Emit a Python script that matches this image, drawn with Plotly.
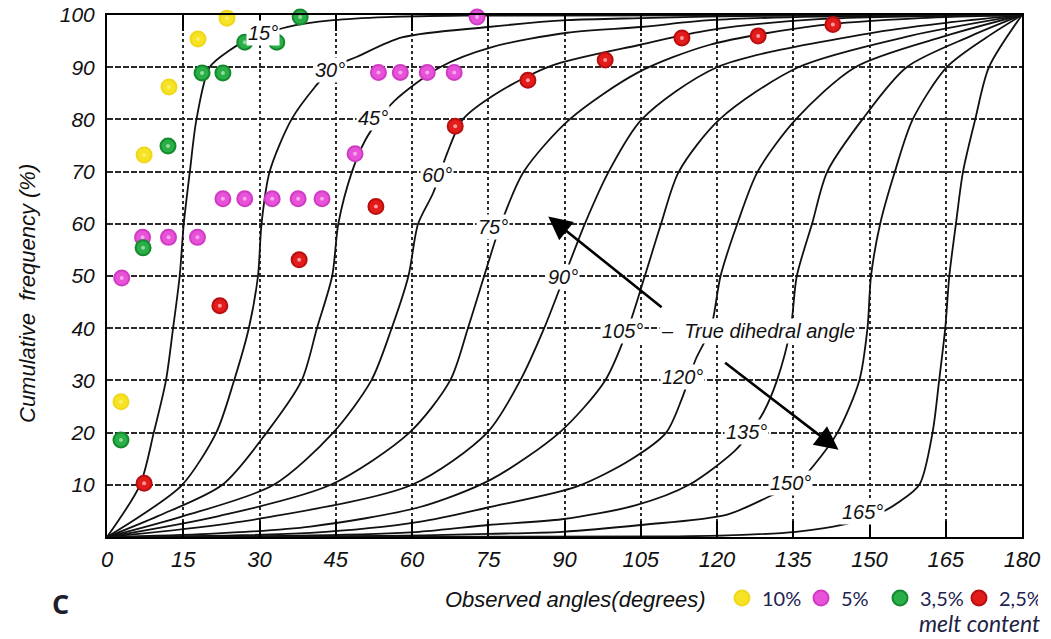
import plotly.graph_objects as go

# ---- Theoretical cumulative-frequency curves (observed angle vs cumulative %) ----
c15_obs = [0, 6.5, 9.2, 11.6, 13.0, 14.3, 15.1, 16.3, 17.6, 20.2, 24.2, 27.5, 35.4, 44.5, 55, 70, 180]
c15_frq = [0, 10, 20, 30, 40, 50, 60, 70, 80, 90, 93.3, 95.2, 97.7, 99.0, 99.6, 99.9, 100]

c30_obs = [0, 7, 14.8, 21.5, 25.0, 27.9, 29.7, 30.4, 32.0, 36.3, 40.9, 44.5, 49.2, 58, 75, 90.5, 105, 125, 180]
c30_frq = [0, 4.3, 10, 20, 30, 40, 50, 60, 70, 80, 86.2, 90, 92, 95.7, 97.7, 99.0, 99.4, 99.8, 100]

c45_obs = [0, 10, 22.7, 31.4, 38.3, 41.3, 44.3, 45.5, 48.2, 50.8, 53.5, 56.5, 65.5, 75.9, 90.5, 105, 118.6, 140, 180]
c45_frq = [0, 4, 10, 20, 30, 40, 50, 60, 70, 76, 80, 83.5, 90, 93.9, 96.6, 97.7, 99.0, 99.7, 100]

c60_obs = [0, 15, 32.8, 44.5, 52, 56, 59.3, 61.2, 64.2, 66.9, 70, 77, 87.5, 104.9, 118.6, 140, 180]
c60_frq = [0, 4, 10, 20, 30, 40, 50, 60, 66, 73.5, 80, 85.2, 90.3, 94.3, 97.1, 99.2, 100]

c75_obs = [0, 22, 44, 59.5, 67.5, 71, 74.2, 77.5, 82, 91, 104.5, 118.6, 140, 160, 180]
c75_frq = [0, 4, 10, 20, 30, 40, 50, 60, 70, 80, 89, 94.3, 98, 99.4, 100]

c90_obs = [0, 15, 30, 60, 74.8, 81.3, 86, 90, 94, 98.7, 105.2, 120, 150, 165, 180]
c90_frq = [0, 1.5, 3.5, 10, 20, 30, 40, 50, 60, 70, 80, 90, 96.5, 98.5, 100]

c105_obs = [0, 20, 40, 61.4, 75.5, 89, 98, 102.5, 105.8, 109, 112.5, 120.5, 136, 158, 180]
c105_frq = [0, 0.6, 2, 5.7, 11, 20, 30, 40, 50, 60, 70, 80, 90, 96, 100]

c120_obs = [0, 40, 61.4, 75.1, 92.5, 103, 110, 113.1, 115.8, 118.8, 120.7, 124, 128, 135.5, 147.2, 165, 180]
c120_frq = [0, 0.8, 2.9, 5.7, 9.7, 14.8, 20, 26.5, 34, 40, 50, 60, 70, 80, 90, 96, 100]

c135_obs = [0, 40, 61.4, 75, 89.5, 104.1, 114.5, 123.5, 126.5, 129.2, 131.8, 134.5, 135.7, 138.7, 141.7, 148.6, 157.3, 170, 180]
c135_frq = [0, 0.3, 1, 2.3, 3.4, 6.1, 10, 16.5, 20, 24, 30, 40, 50, 60, 70, 80, 90, 96, 100]

c150_obs = [0, 55, 75, 89.5, 105, 122, 130.8, 135.5, 139.1, 143.7, 148, 149.6, 150.3, 152.1, 155, 158.5, 165.2, 173, 180]
c150_frq = [0, 0.2, 0.6, 1, 2.3, 4.3, 8, 10, 13.8, 20, 30, 40, 50, 60, 70, 80, 90, 95.7, 100]

c165_obs = [0, 110, 125, 135.5, 144.6, 152.5, 155.8, 159.8, 162.4, 163.7, 164.9, 165.7, 167, 168.4, 170.8, 173.5, 180]
c165_frq = [0, 0.1, 0.4, 1.0, 2.3, 4.8, 6.7, 10, 20, 30, 40, 50, 60, 70, 80, 90, 100]

true_angles = [15, 30, 45, 60, 75, 90, 105, 120, 135, 150, 165]

# ---- Measured cumulative frequencies for each melt content ----
melt_labels = ["10%", "5%", "3,5%", "2,5%"]

m10_obs = [23.6, 17.9, 12.2, 7.3, 2.75]
m10_frq = [99.4, 95.4, 86.2, 73.2, 25.9]

m5_obs = [72.8, 53.4, 57.7, 63.0, 68.3, 48.8, 22.8, 27.1, 32.5, 37.6, 42.3, 7.0, 12.1, 17.8, 2.9]
m5_frq = [99.6, 89.0, 89.0, 89.0, 89.0, 73.4, 64.8, 64.8, 64.8, 64.8, 64.8, 57.4, 57.4, 57.4, 49.6]

m35_obs = [38.0, 27.1, 33.4, 18.7, 22.8, 12.0, 7.1, 2.75]
m35_frq = [99.6, 94.8, 94.8, 88.9, 88.9, 74.9, 55.4, 18.6]

m25_obs = [7.3, 22.2, 37.8, 52.9, 68.5, 82.8, 98.0, 113.1, 128.1, 142.8]
m25_frq = [10.3, 44.3, 53.1, 63.3, 78.7, 87.5, 91.4, 95.6, 96.0, 98.2]

x_ticks = list(range(0, 181, 15))
y_ticks = list(range(10, 101, 10))

curves = [
    (c15_obs, c15_frq), (c30_obs, c30_frq), (c45_obs, c45_frq), (c60_obs, c60_frq),
    (c75_obs, c75_frq), (c90_obs, c90_frq), (c105_obs, c105_frq), (c120_obs, c120_frq),
    (c135_obs, c135_frq), (c150_obs, c150_frq), (c165_obs, c165_frq),
]

series = [
    (m10_obs, m10_frq, "#f6e324", "#efd81c", "#fbef6a"),
    (m5_obs, m5_frq, "#e852d8", "#cf3cc4", "#f6a6ee"),
    (m35_obs, m35_frq, "#2aae47", "#15892e", "#8fdc9c"),
    (m25_obs, m25_frq, "#e31b1b", "#b80f10", "#ff9a9a"),
]

fig = go.Figure()

for obs, frq in curves:
    fig.add_trace(go.Scatter(
        x=obs, y=frq, mode="lines",
        line=dict(color="#111111", width=1.8, shape="spline", smoothing=0.8),
        showlegend=False, hoverinfo="skip",
    ))

for (obs, frq, fill, ring, core), name in zip(series, melt_labels):
    fig.add_trace(go.Scatter(
        x=obs, y=frq, mode="markers", name=name,
        marker=dict(size=15, color=fill, line=dict(color=ring, width=2)),
        cliponaxis=False,
    ))
    fig.add_trace(go.Scatter(
        x=obs, y=frq, mode="markers", showlegend=False, hoverinfo="skip",
        marker=dict(size=4, color=core), cliponaxis=False,
    ))

ital = dict(family="Liberation Sans", size=20, color="#111111", style="italic")

# curve labels placed along each curve
label_obs = [30.7, 43.9, 52.3, 64.9, 75.9, 89.7, 101.5, 113.3, 125.9, 134.4, 148.7]
label_frq = [96.6, 89.5, 80.3, 69.3, 59.4, 49.8, 39.5, 30.7, 20.1, 10.3, 4.8]
for a, lx, ly in zip(true_angles, label_obs, label_frq):
    fig.add_annotation(x=lx, y=ly, text=f"{a}°", showarrow=False,
                       bgcolor="white", borderpad=1, font=ital)

fig.add_annotation(x=108.6, y=39.5, text="–  True dihedral angle", showarrow=False,
                   xanchor="left", bgcolor="white", borderpad=1, font=ital)

# direction arrows
fig.add_annotation(x=86.8, y=61.4, ax=109.4, ay=43.8, axref="x", ayref="y",
                   xref="x", yref="y", text="", showarrow=True,
                   arrowhead=2, arrowsize=1.8, arrowwidth=2.6, arrowcolor="#000000", standoff=0)
fig.add_annotation(x=143.9, y=16.7, ax=121.3, ay=33.6, axref="x", ayref="y",
                   xref="x", yref="y", text="", showarrow=True,
                   arrowhead=2, arrowsize=1.8, arrowwidth=2.6, arrowcolor="#000000", standoff=0)


def paper(px, py):
    return (px - 107) / 915, (537 - py) / 522


def page_text(px, py, text, font, xanchor="center", **kw):
    x, y = paper(px, py)
    fig.add_annotation(x=x, y=y, xref="paper", yref="paper", text=text, showarrow=False,
                       xanchor=xanchor, yanchor="middle", font=font, **kw)


page_text(27, 294, "Cumulative  frequency (%)",
          dict(family="Liberation Sans", size=22, color="#111111", style="italic"), textangle=-90)
page_text(575, 599, "Observed angles(degrees)",
          dict(family="Liberation Sans", size=22, color="#111111", style="italic"))
page_text(60, 603, "<b>C</b>", dict(family="Open Sans", size=27, color="#1d1d2b"))
page_text(1042, 623, "melt content",
          dict(family="Lato", size=23, color="#222244", style="italic"), xanchor="right")

lx, ly = paper(722, 598)
fig.update_layout(
    width=1051, height=639,
    margin=dict(l=107, r=29, t=15, b=102, autoexpand=False),
    paper_bgcolor="white", plot_bgcolor="white",
    showlegend=True,
    legend=dict(orientation="h", x=lx, y=ly, xanchor="left", yanchor="middle",
                font=dict(family="Lato", size=20, color="#222250"),
                itemwidth=30, entrywidth=34, entrywidthmode="pixels",
                tracegroupgap=0, bgcolor="rgba(0,0,0,0)"),
    xaxis=dict(range=[0, 180], tickvals=x_ticks, ticktext=[str(v) for v in x_ticks],
               showgrid=True, gridcolor="#2a2a2a", gridwidth=1.6, griddash="dot",
               showline=True, linecolor="#000000", linewidth=2, mirror="ticks",
               ticks="inside", ticklen=16, tickwidth=2, tickcolor="#000000",
               zeroline=False, ticklabelstandoff=2, automargin=False,
               tickfont=dict(family="Liberation Sans", size=22, color="#111111", style="italic")),
    yaxis=dict(range=[0, 100], tickvals=y_ticks, ticktext=[str(v) for v in y_ticks],
               showgrid=True, gridcolor="#2a2a2a", gridwidth=1.6, griddash="6px,2px",
               showline=True, linecolor="#000000", linewidth=2, mirror=True,
               ticks="", zeroline=False, ticklabelstandoff=6, automargin=False,
               tickfont=dict(family="Liberation Sans", size=21, color="#111111", style="italic")),
)

fig.write_html("out.html")
